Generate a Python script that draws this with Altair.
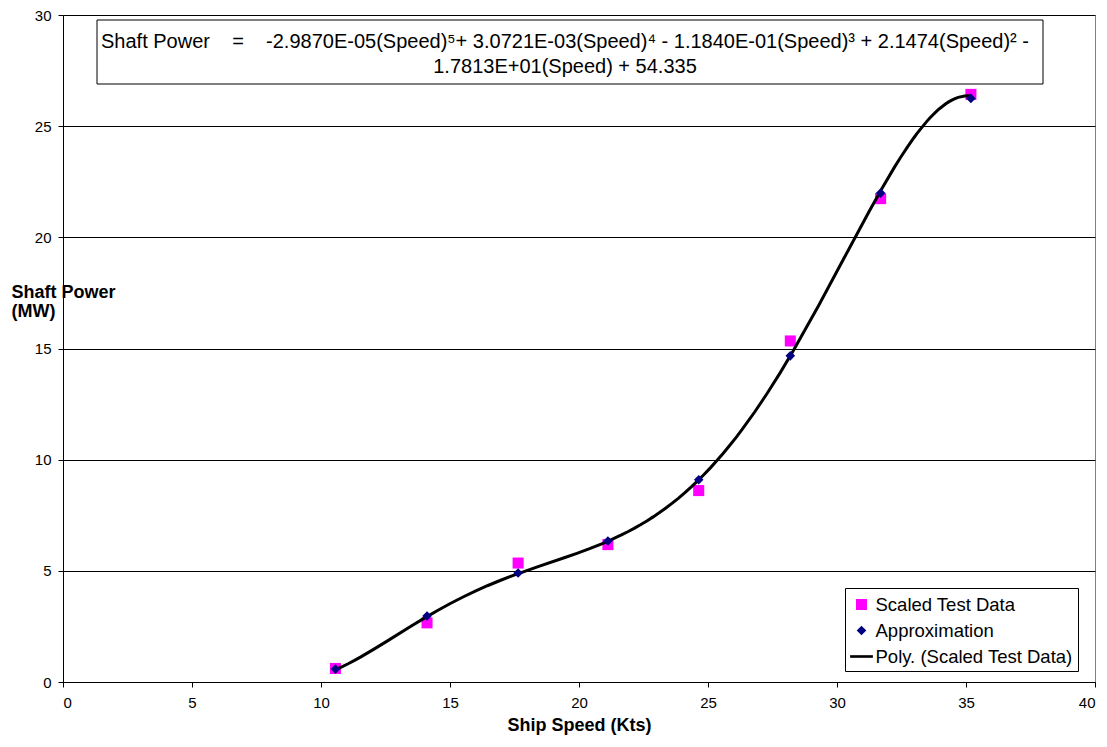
import altair as alt
import pandas as pd

# ---- data ----
speeds = [10.56, 14.11, 17.64, 21.12, 24.64, 28.19, 31.69, 35.19]
test_power = [0.61, 2.66, 5.35, 6.18, 8.61, 15.34, 21.74, 26.43]
approx_power = [0.58, 2.97, 4.90, 6.34, 9.10, 14.67, 21.99, 26.25]

series_names = ["Scaled Test Data", "Approximation", "Poly. (Scaled Test Data)"]
series_colors = ["#FF00FF", "#000080", "#000000"]
# symbol outlines in the unit box [-1, 1]: square, diamond, short thick line
series_shapes = [
    "M-0.46,-0.46L0.46,-0.46L0.46,0.46L-0.46,0.46Z",
    "M0,-0.4L0.4,0L0,0.4L-0.4,0Z",
    "M-0.95,-0.11L0.95,-0.11L0.95,0.11L-0.95,0.11Z",
]

x_ticks = [0, 5, 10, 15, 20, 25, 30, 35, 40]
y_ticks = [0, 5, 10, 15, 20, 25, 30]

NB = "\u00a0"
eq_line1 = ("Shaft Power" + NB * 4 + "=" + NB * 4 +
            "-2.9870E-05(Speed)\u2075+ 3.0721E-03(Speed)\u2074 - 1.1840E-01(Speed)\u00b3"
            " + 2.1474(Speed)\u00b2 -")
eq_line2 = "1.7813E+01(Speed) + 54.335"

FONT = "Liberation Sans"

df = pd.DataFrame({
    "speed": speeds + speeds,
    "power": test_power + approx_power,
    "series": [series_names[0]] * len(speeds) + [series_names[1]] * len(speeds),
})

x_enc = alt.X("speed:Q",
              scale=alt.Scale(domain=[0, 40], nice=False),
              axis=alt.Axis(values=x_ticks, title="Ship Speed (Kts)", grid=False,
                            labelPadding=8, titlePadding=6))
y_enc = alt.Y("power:Q",
              scale=alt.Scale(domain=[0, 30], nice=False),
              axis=alt.Axis(values=y_ticks, title=["Shaft Power", "(MW)"],
                            titleAngle=0, titleAlign="left", titleBaseline="top",
                            titleX=-52, titleY=268, titleLineHeight=19,
                            grid=True, gridColor="black", gridWidth=1,
                            labelPadding=7))

leg = alt.Legend(title=None, orient="none", legendX=782, legendY=573,
                 strokeColor="black", fillColor="white", padding=4.5,
                 labelFontSize=18.5, labelFont=FONT, labelColor="black",
                 symbolSize=576, symbolStrokeWidth=0, labelOffset=2, rowPadding=4,
                 labelLimit=400)

fill_enc = alt.Fill("series:N", scale=alt.Scale(domain=series_names, range=series_colors), legend=leg)
shape_enc = alt.Shape("series:N", scale=alt.Scale(domain=series_names, range=series_shapes), legend=leg)

base = alt.Chart(df)

squares = base.transform_filter(
    alt.datum.series == series_names[0]
).mark_point(filled=True, opacity=1, strokeWidth=0, size=576).encode(
    x=x_enc, y=y_enc, fill=fill_enc, shape=shape_enc
)

diamonds = base.transform_filter(
    alt.datum.series == series_names[1]
).mark_point(filled=True, opacity=1, strokeWidth=0, size=576).encode(
    x=x_enc, y=y_enc, fill=fill_enc, shape=shape_enc
)

poly = base.transform_filter(
    alt.datum.series == series_names[0]
).transform_regression(
    "speed", "power", method="poly", order=5
).mark_line(color="black", strokeWidth=3).encode(x=x_enc, y=y_enc)

eq_df = pd.DataFrame({"l1": [eq_line1], "l2": [eq_line2]})
eq_box = alt.Chart(eq_df).mark_rect(fill="white", stroke="black", strokeWidth=1).encode(
    x=alt.value(34), x2=alt.value(980), y=alt.value(5), y2=alt.value(69)
)
eq_text1 = alt.Chart(eq_df).mark_text(align="center", baseline="alphabetic", fontSize=20,
                                      font=FONT, color="black").encode(
    x=alt.value(502), y=alt.value(33), text="l1:N"
)
eq_text2 = alt.Chart(eq_df).mark_text(align="center", baseline="alphabetic", fontSize=20,
                                      font=FONT, color="black").encode(
    x=alt.value(502), y=alt.value(58), text="l2:N"
)

chart = alt.layer(
    squares, poly, diamonds, eq_box, eq_text1, eq_text2
).properties(
    width=1032, height=667,
    autosize=alt.AutoSizeParams(type="none"),
    padding={"left": 55, "top": 7, "right": 4, "bottom": 58},
).configure(
    font=FONT
).configure_view(
    stroke="#808080", strokeWidth=1
).configure_axis(
    domainColor="black", tickColor="black", tickSize=5, labelFontSize=15,
    labelColor="black", titleColor="black", titleFontSize=18, titleFontWeight="bold",
    labelFont=FONT, titleFont=FONT
)

chart.save("out.html", embed_options={"renderer": "svg", "actions": False})
